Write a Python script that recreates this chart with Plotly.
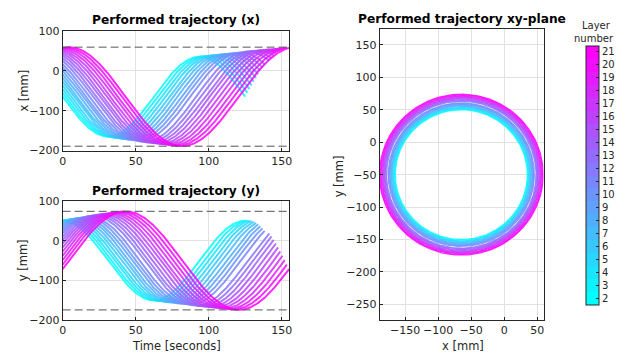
import numpy as np
import plotly.graph_objects as go

# ---- per-layer trajectory parameters -------------------------------------
layer_number = list(range(2, 22))
layer_radius_mm = [100.0, 101.2, 102.4, 103.5, 104.7, 105.9, 107.1, 108.2, 109.4, 110.6,
                   113.2, 114.4, 115.6, 116.8, 118.0, 119.2, 120.4, 121.6, 122.8, 124.0]
layer_start_deg = [90.0, 84.7, 79.5, 74.2, 68.9, 63.7, 58.4, 53.2, 47.9, 42.6,
                   37.4, 32.1, 26.8, 21.6, 16.3, 11.1, 5.8, 0.5, -4.7, -10.0]
layer_duration_s = [125.0, 126.5, 128.0, 129.4, 130.9, 132.4, 133.9, 135.3, 136.8, 138.3,
                    141.5, 143.0, 144.5, 146.0, 147.5, 149.0, 150.5, 152.0, 153.5, 155.0]
centre_x_mm = -65.0
centre_y_mm = -50.0

# reference limits (dashed lines)
x_bounds_mm = [59.0, -189.0]
y_bounds_mm = [74.0, -174.0]

# tick labels
time_ticks = [0, 50, 100, 150]
pos_ticks = [-200, -100, 0, 100]
xy_x_ticks = [-150, -100, -50, 0, 50]
xy_y_ticks = [-250, -200, -150, -100, -50, 0, 50, 100, 150]

# ---- styling -------------------------------------------------------------
W, H = 628, 360
AX = "#262626"
GRID = "#e1e1e1"
FONT = "DejaVu Sans"


def cool(k, n, a=1.0):
    f = k / (n - 1)
    return "rgba(%d,%d,255,%.2f)" % (round(255 * f), round(255 * (1 - f)), a)


n_layers = len(layer_number)
colors = [cool(k, n_layers) for k in range(n_layers)]
line_colors = [cool(k, n_layers, 0.85) for k in range(n_layers)]

fig = go.Figure()

t_end = 155.3

for k in range(n_layers):
    R = layer_radius_mm[k]
    T = layer_duration_s[k]
    th0 = np.deg2rad(layer_start_deg[k])
    t = np.linspace(0.0, T, 400)
    th = th0 + 2 * np.pi * t / T
    x = centre_x_mm + R * np.cos(th)
    y = centre_y_mm + R * np.sin(th)
    line = dict(color=line_colors[k], width=2.0)
    fig.add_trace(go.Scatter(x=t, y=x, mode="lines", line=line, xaxis="x", yaxis="y",
                             showlegend=False, hoverinfo="skip"))
    fig.add_trace(go.Scatter(x=t, y=y, mode="lines", line=line, xaxis="x2", yaxis="y2",
                             showlegend=False, hoverinfo="skip"))
    fig.add_trace(go.Scatter(x=x, y=y, mode="lines", line=dict(color=line_colors[k], width=1.3),
                             xaxis="x3", yaxis="y3", showlegend=False, hoverinfo="skip"))

# dashed limit lines
dash = dict(color="#555555", width=1, dash="8px,4px")
for v in x_bounds_mm:
    fig.add_trace(go.Scatter(x=[0, t_end], y=[v, v], mode="lines", line=dash,
                             xaxis="x", yaxis="y", showlegend=False, hoverinfo="skip"))
for v in y_bounds_mm:
    fig.add_trace(go.Scatter(x=[0, t_end], y=[v, v], mode="lines", line=dash,
                             xaxis="x2", yaxis="y2", showlegend=False, hoverinfo="skip"))

# colorbar carrier
scale = []
for k in range(n_layers):
    scale.append([k / n_layers, colors[k]])
    scale.append([(k + 1) / n_layers, colors[k]])
fig.add_trace(go.Scatter(
    x=[None], y=[None], mode="markers", xaxis="x3", yaxis="y3", showlegend=False,
    marker=dict(color=layer_number, cmin=1.5, cmax=21.5, colorscale=scale, showscale=True,
                colorbar=dict(
                    x=589 / W, xanchor="left", y=1 - 175.35 / H, yanchor="middle",
                    thickness=13, lenmode="pixels", len=259.3,
                    outlinewidth=1, outlinecolor=AX,
                    tickvals=layer_number, ticktext=[str(v) for v in layer_number],
                    ticks="inside", ticklen=3, tickcolor=AX,
                    tickfont=dict(family=FONT, size=10, color=AX),
                    xpad=0, ypad=0,
                ))))


def px_x(p):
    return p / W


def px_y(p):
    return 1 - p / H


common = dict(showline=True, linecolor=AX, linewidth=1, mirror=True,
              ticks="inside", ticklen=3, tickcolor=AX,
              showgrid=True, gridcolor=GRID, gridwidth=1, zeroline=False,
              tickfont=dict(family=FONT, size=11, color=AX))

left_dom = [px_x(59.3), px_x(288.7)]
fig.update_layout(
    width=W, height=H, margin=dict(l=0, r=0, t=0, b=0),
    paper_bgcolor="white", plot_bgcolor="white",
    xaxis=dict(domain=left_dom, anchor="y", range=[0, t_end], tickvals=time_ticks, **common),
    yaxis=dict(domain=[px_y(150), px_y(25.7)], anchor="x", range=[-200, 100],
               tickvals=pos_ticks, **common),
    xaxis2=dict(domain=left_dom, anchor="y2", range=[0, t_end], tickvals=time_ticks, **common),
    yaxis2=dict(domain=[px_y(326), px_y(202.3)], anchor="x2", range=[-200, 100],
                tickvals=pos_ticks, **common),
    xaxis3=dict(domain=[px_x(380), px_x(545.7)], anchor="y3", range=[-188.5, 59.6],
                tickvals=xy_x_ticks, **common),
    yaxis3=dict(domain=[px_y(326), px_y(24)], anchor="x3", range=[-274.4, 174.3],
                tickvals=xy_y_ticks, **common),
)

ann = []


def text(x, y, s, size=10, bold=False, angle=0):
    ann.append(dict(x=px_x(x), y=px_y(y), xref="paper", yref="paper", text=s,
                    showarrow=False, textangle=angle, xanchor="center", yanchor="middle",
                    font=dict(family=FONT, size=size, color="black" if bold else AX)))


text(174, 15, "<b>Performed trajectory (x)</b>", size=12.2, bold=True)
text(174, 191.5, "<b>Performed trajectory (y)</b>", size=12.2, bold=True)
text(463, 13.5, "<b>Performed trajectory xy-plane</b>", size=12.2, bold=True)
text(20, 88, "x [mm]", size=11.5, angle=-90)
text(20, 264, "y [mm]", size=11.5, angle=-90)
text(174, 352.5, "Time [seconds]", size=11.5)
text(339, 176.5, "y [mm]", size=11.5, angle=-90)
text(464, 353, "x [mm]", size=11.5)
text(599, 20.5, "Layer", size=10)
text(597, 34, "number", size=10)
fig.update_layout(annotations=ann)

fig.write_html("out.html")
